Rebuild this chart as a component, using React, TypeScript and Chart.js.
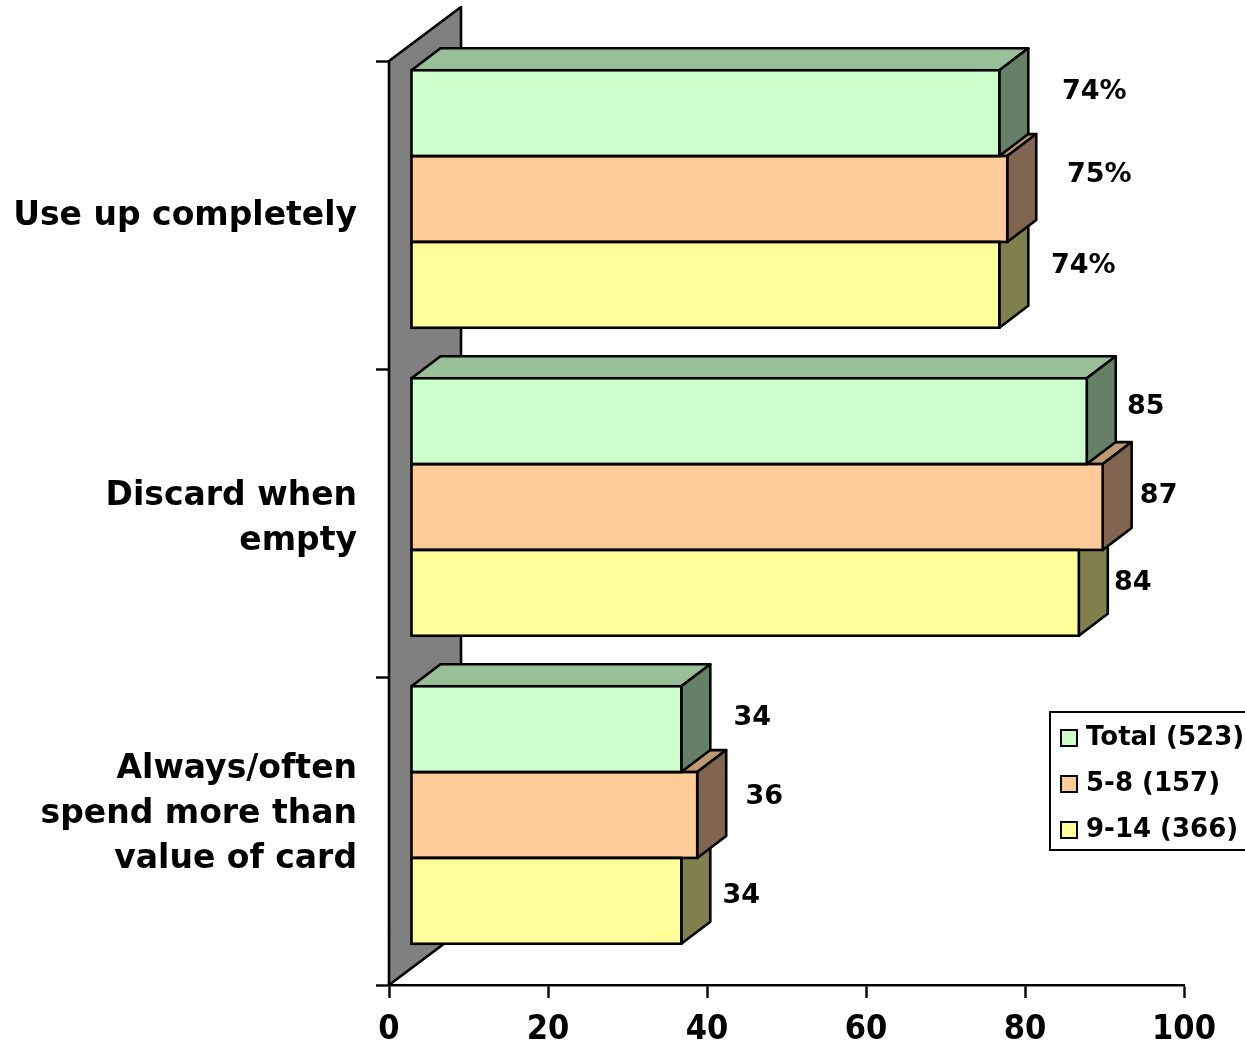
import { useEffect, useRef } from "react";
import { Chart, registerables } from "chart.js";

Chart.register(...registerables);

const categories = [
  ["Use up completely"],
  ["Discard when", "empty"],
  ["Always/often", "spend more than", "value of card"],
];
const seriesNames = ["Total (523)", "5-8 (157)", "9-14 (366)"];
const totalValues = [74, 85, 34];
const youngerValues = [75, 87, 36];
const olderValues = [74, 84, 34];
const seriesValues = [totalValues, youngerValues, olderValues];
const valueSuffix = ["%", "", ""];
const frontColors = ["#CCFFCC", "#FFCC99", "#FFFF99"];
const topColors = ["#99BF99", "#BF9973", "#BFBF73"];
const sideColors = ["#668066", "#806650", "#80804D"];

// Hand-placed value labels: offset from the end of each bar, per category then series.
const labelNudges = [
  [[95, -21.5], [92, -24.5], [84, -19]],
  [[59, -14.5], [56, -11], [54, -10]],
  [[71, -11.5], [67, -18], [60, -5]],
];
const categoryLift = [-1, 4, 17];

const FONT = '"DejaVu Sans"';
const TICK_FONT = '"DejaVu Sans Condensed", "DejaVu Sans"';
const LINE = 2.6;
const FRONT_DX = 22;
const FRONT_DY = -16;
const DEPTH_X = 29;
const DEPTH_Y = -22;
const WALL_X = 72;
const WALL_Y = -54;

function poly(ctx: CanvasRenderingContext2D, pts: number[][], fill: string) {
  ctx.beginPath();
  pts.forEach(([x, y], i) => (i ? ctx.lineTo(x, y) : ctx.moveTo(x, y)));
  ctx.closePath();
  ctx.fillStyle = fill;
  ctx.fill();
  ctx.stroke();
}

function frontRect(el: any) {
  return {
    x0: el.base + FRONT_DX,
    x1: el.x + FRONT_DX,
    y0: el.y - el.height / 2 + FRONT_DY,
    y1: el.y + el.height / 2 + FRONT_DY,
  };
}

// Raised wall behind the bars, plus the top and side faces of every bar.
// The front fills come from the bar controller, drawn shifted inside this translate.
const depthPlugin = {
  id: "depth",
  beforeDatasetsDraw(chart: any) {
    const { ctx, chartArea: a } = chart;
    ctx.save();
    ctx.strokeStyle = "#000";
    ctx.lineWidth = LINE;
    ctx.lineJoin = "round";
    poly(ctx, [
      [a.left, a.top],
      [a.left + WALL_X, a.top + WALL_Y],
      [a.left + WALL_X, a.bottom + WALL_Y],
      [a.left, a.bottom],
    ], "#808080");
    // Top faces first, then the sides; the middle series is longest and overlaps its neighbours.
    for (const s of [1, 2, 0]) {
      chart.getDatasetMeta(s).data.forEach((el: any) => {
        const { x0, x1, y0 } = frontRect(el);
        poly(ctx, [
          [x0, y0],
          [x0 + DEPTH_X, y0 + DEPTH_Y],
          [x1 + DEPTH_X, y0 + DEPTH_Y],
          [x1, y0],
        ], topColors[s]);
      });
    }
    for (const s of [0, 2, 1]) {
      chart.getDatasetMeta(s).data.forEach((el: any) => {
        const { x1, y0, y1 } = frontRect(el);
        poly(ctx, [
          [x1, y0],
          [x1 + DEPTH_X, y0 + DEPTH_Y],
          [x1 + DEPTH_X, y1 + DEPTH_Y],
          [x1, y1],
        ], sideColors[s]);
      });
    }
    ctx.restore();
    ctx.save();
    ctx.translate(FRONT_DX, FRONT_DY);
  },
  afterDatasetsDraw(chart: any) {
    const { ctx } = chart;
    ctx.restore();
    ctx.save();

    // Outlines of the front faces, centred on the bar edges
    ctx.strokeStyle = "#000";
    ctx.lineWidth = LINE;
    for (const s of [0, 2, 1]) {
      chart.getDatasetMeta(s).data.forEach((el: any) => {
        const { x0, x1, y0, y1 } = frontRect(el);
        ctx.strokeRect(x0, y0, x1 - x0, y1 - y0);
      });
    }

    ctx.fillStyle = "#000";
    ctx.textBaseline = "middle";

    // Value labels
    ctx.textAlign = "center";
    ctx.font = `bold 27px ${FONT}`;
    seriesValues.forEach((values, s) => {
      chart.getDatasetMeta(s).data.forEach((el: any, c: number) => {
        const [dx, dy] = labelNudges[c][s];
        ctx.fillText(`${values[c]}${valueSuffix[c]}`, el.x + FRONT_DX + dx, el.y + FRONT_DY + dy);
      });
    });

    // Category labels, right-aligned against the axis
    const yScale = chart.scales.y;
    ctx.textAlign = "right";
    ctx.font = `bold 33px ${FONT}`;
    categories.forEach((lines, c) => {
      const mid = yScale.getPixelForTick(c) - categoryLift[c];
      lines.forEach((line, i) => {
        ctx.fillText(line, 357, mid + (i - (lines.length - 1) / 2) * 45);
      });
    });

    // Legend box
    ctx.lineWidth = 2;
    ctx.fillStyle = "#fff";
    ctx.fillRect(1050, 712, 200, 138);
    ctx.strokeRect(1050, 712, 200, 138);
    ctx.textAlign = "left";
    ctx.font = `bold 26px ${FONT}`;
    seriesNames.forEach((name, s) => {
      const cy = 738 + s * 46;
      ctx.fillStyle = frontColors[s];
      ctx.fillRect(1061, cy - 8, 16, 16);
      ctx.strokeRect(1061, cy - 8, 16, 16);
      ctx.fillStyle = "#000";
      ctx.fillText(name, 1086, cy);
    });
    ctx.restore();
  },
};

export default function App() {
  const ref = useRef<HTMLCanvasElement>(null);
  useEffect(() => {
    const chart = new Chart(ref.current!, {
      type: "bar",
      plugins: [depthPlugin],
      data: {
        labels: categories.map((c) => c.join(" ")),
        datasets: seriesNames.map((label, s) => ({
          label,
          data: seriesValues[s],
          backgroundColor: frontColors[s],
          borderWidth: 0,
          barPercentage: 1,
          categoryPercentage: 0.836,
          clip: false,
        })),
      },
      options: {
        indexAxis: "y",
        responsive: false,
        animation: false,
        layout: { autoPadding: false, padding: { left: 0, top: 61, right: 61, bottom: 0 } },
        plugins: { legend: { display: false }, tooltip: { enabled: false } },
        scales: {
          x: {
            min: 0,
            max: 100,
            ticks: {
              stepSize: 20,
              color: "#000",
              maxRotation: 0,
              padding: 12,
              font: { family: TICK_FONT, size: 34, weight: "bold" },
            },
            grid: { drawOnChartArea: false, drawTicks: true, tickLength: 13, tickColor: "#000", tickWidth: 2.4 },
            border: { color: "#000", width: 2.4 },
            afterFit: (scale: any) => { scale.height = 60; },
          },
          y: {
            ticks: { display: false },
            grid: { drawOnChartArea: false, drawTicks: true, tickLength: 13, tickColor: "#000", tickWidth: 2.4 },
            border: { color: "#000", width: 2.4 },
            afterFit: (scale: any) => { scale.width = 389; },
          },
        },
      },
    } as any);
    return () => chart.destroy();
  }, []);
  return (
    <div style={{ position: "absolute", left: 0, top: 0, width: 1245, height: 1045, overflow: "hidden", background: "#fff" }}>
      <canvas ref={ref} width={1245} height={1045} style={{ display: "block" }} />
    </div>
  );
}
